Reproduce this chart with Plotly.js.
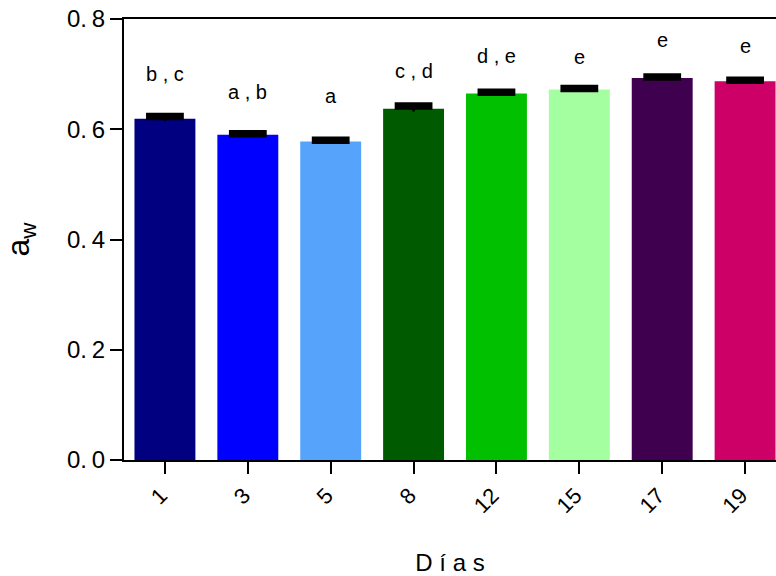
<!DOCTYPE html>
<html>
<head>
<meta charset="utf-8">
<script src="https://cdn.plot.ly/plotly-3.0.1.min.js"></script>
<style>html,body{margin:0;padding:0;background:#fff;}#chart{width:776px;height:576px;}</style>
</head>
<body>
<div id="chart"></div>
<script>
// Data
const dias = ['1', '3', '5', '8', '12', '15', '17', '19'];
const aw = [0.619, 0.590, 0.578, 0.637, 0.665, 0.672, 0.693, 0.687];
const sd = [0.004, 0.002, 0.002, 0.005, 0.002, 0.002, 0.002, 0.002];
const letters = ['b , c', 'a , b', 'a', 'c , d', 'd , e', 'e', 'e', 'e'];
const yTickVals = [0, 0.2, 0.4, 0.6, 0.8];
const yTickText = ['0.\u20090', '0.\u20092', '0.\u20094', '0.\u20096', '0.\u20098'];

// Styles
const barColors = ['#000080', '#0000FF', '#56A3FC', '#005A00', '#00C000', '#A4FFA0', '#3F004F', '#CC0066'];
const labelShift = [32, 30, 32, 25, 24, 20, 25, 22];
const FONT = 'Liberation Sans, Arial, sans-serif';

const bars = {
  type: 'bar',
  x: dias,
  y: aw,
  marker: {color: barColors, line: {width: 0}},
  error_y: {type: 'data', array: sd, arrayminus: sd, symmetric: false, visible: true,
            color: '#000', thickness: 2.5, width: 0},
  hoverinfo: 'x+y',
  showlegend: false
};

const caps = {
  type: 'scatter',
  mode: 'markers',
  x: dias,
  y: aw.map((v, i) => v + sd[i]),
  marker: {symbol: 'line-ew', size: 27, color: '#000', line: {color: '#000', width: 7.5}},
  hoverinfo: 'skip',
  showlegend: false,
  cliponaxis: false
};

const annotations = dias.map((d, i) => ({
  x: i, y: aw[i], xref: 'x', yref: 'y',
  text: letters[i], showarrow: false,
  yanchor: 'bottom', yshift: labelShift[i],
  font: {family: FONT, size: 20, color: '#000'}
}));

const layout = {
  width: 776, height: 576,
  margin: {l: 124, r: 0, t: 19, b: 116, pad: 0},
  paper_bgcolor: '#fff', plot_bgcolor: '#fff',
  font: {family: FONT, color: '#000'},
  bargap: 0.265,
  xaxis: {
    type: 'category',
    range: [-0.494, 7.373],
    showline: true, linecolor: '#000', linewidth: 2, mirror: true,
    ticks: 'outside', ticklen: 12, tickwidth: 2, tickcolor: '#000',
    tickangle: -45, ticklabelshift: -4,
    tickfont: {family: FONT, size: 22, color: '#000'},
    showgrid: false, zeroline: false,
    title: {text: 'D í a s', font: {family: FONT, size: 24, color: '#000'}, standoff: 37}
  },
  yaxis: {
    range: [0, 0.8],
    tickmode: 'array', tickvals: yTickVals, ticktext: yTickText,
    showline: true, linecolor: '#000', linewidth: 2,
    ticks: 'outside', ticklen: 12, tickwidth: 2, tickcolor: '#000',
    tickfont: {family: FONT, size: 24, color: '#000'},
    showgrid: false, zeroline: false,
    title: {text: 'a<sub>w</sub>', font: {family: FONT, size: 32, color: '#000'}, standoff: 29}
  },
  annotations: annotations
};

Plotly.newPlot('chart', [bars, caps], layout, {displayModeBar: false, staticPlot: true});
</script>
</body>
</html>
